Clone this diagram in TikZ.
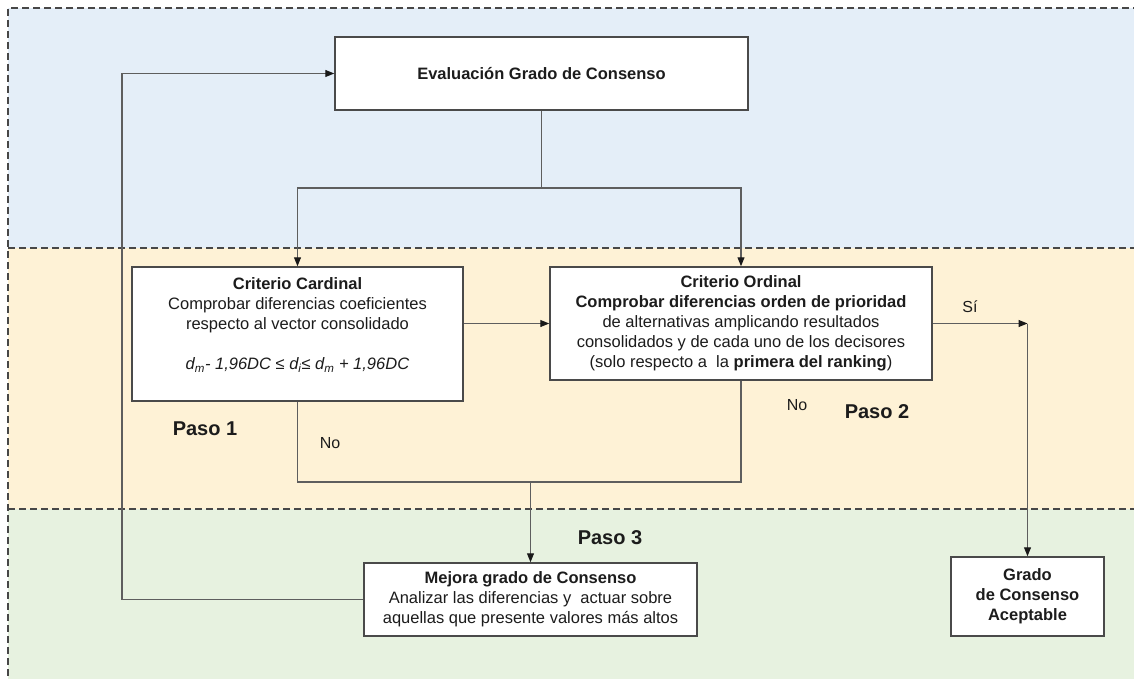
\documentclass[tikz,border=0pt]{standalone}
\usepackage{fontspec}
\setmainfont{Liberation Sans}
\usetikzlibrary{arrows.meta}
\definecolor{bandblue}{HTML}{E4EEF8}
\definecolor{bandyellow}{HTML}{FEF2D6}
\definecolor{bandgreen}{HTML}{E7F2E0}
\definecolor{linegray}{HTML}{5E5E5E}
\definecolor{boxgray}{HTML}{4A4A4A}
\definecolor{txt}{HTML}{1C1C1C}
\begin{document}
\begin{tikzpicture}[x=1pt,y=-1pt,
  box/.style={draw=boxgray, line width=1.5pt, fill=white, align=center, inner sep=0pt, text=txt, font=\fontsize{16.5}{20}\selectfont},
  conn/.style={draw=linegray, line width=1.1pt},
  arr/.style={conn, -{Triangle[length=9pt,width=7pt,color=black!90]}},
  lbl/.style={text=txt, font=\fontsize{16}{19}\selectfont, inner sep=0pt},
  paso/.style={text=txt, font=\bfseries\fontsize{20}{24}\selectfont, inner sep=0pt},
  sep/.style={draw=black!72, line width=1.5pt, dash pattern=on 7pt off 4pt}
]
\useasboundingbox (0,0) rectangle (1134,679);
% bands
\fill[bandblue] (8,8) rectangle (1140,248);
\fill[bandyellow] (8,248) rectangle (1140,509);
\fill[bandgreen] (8,509) rectangle (1140,685);
\draw[sep] (1140,8) -- (8,8) -- (8,685);
\draw[sep] (8,248) -- (1140,248);
\draw[sep] (8,509) -- (1140,509);

% boxes
\node[box, minimum width=413pt, minimum height=73pt] (eval) at (541.5,73.5)
  {\bfseries Evaluación Grado de Consenso};
\node[box, minimum width=331pt, minimum height=134pt] (card) at (297.5,334)
  {{\bfseries Criterio Cardinal}\\
   Comprobar diferencias coeficientes\\
   respecto al vector consolidado\\
   \mbox{}\\
   \textit{d\textsubscript{m}- 1,96DC ≤ d\textsubscript{i}≤ d\textsubscript{m} + 1,96DC}\\
   \mbox{}};
\node[box, minimum width=382pt, minimum height=113pt] (ord) at (741,323.5)
  {{\bfseries Criterio Ordinal}\\
   {\bfseries Comprobar diferencias orden de prioridad}\\
   de alternativas amplicando resultados\\
   consolidados y de cada uno de los decisores\\
   (solo respecto a\ \ la \textbf{primera del ranking})};
\node[box, minimum width=333pt, minimum height=73pt] (mej) at (530.5,599.5)
  {{\bfseries Mejora grado de Consenso}\\
   Analizar las diferencias y\ \ actuar sobre\\
   aquellas que presente valores más altos};
\node[box, minimum width=153pt, minimum height=79pt] (grado) at (1027.5,596.5)
  {\bfseries Grado\\ \bfseries de Consenso\\ \bfseries Aceptable};

% connectors
\coordinate (split) at (541.5,188);
\draw[conn] (eval.south) -- (split);
\draw[arr] (split) -| (card.north);
\draw[arr] (split) -| (ord.north);
\draw[arr] (card.east |- ord.west) -- (ord.west);
\coordinate (si) at (1027.5,323.5);
\draw[arr] (ord.east) -- (si);
\draw[arr] (si) -- (grado.north);
\coordinate (join) at (530.5,482);
\draw[conn] (card.south) -- (card.south |- join) -- (ord.south |- join) -- (ord.south);
\draw[arr] (join) -- (mej.north);
\coordinate (back) at (122,599.5);
\draw[arr] (mej.west) -- (back) -- (back |- eval.west) -- (eval.west);

% labels
\node[lbl] (lsi) at (970,307) {Sí};
\node[lbl] (lno2) at (797,405) {No};
\node[lbl] (lno1) at (330,443) {No};
\node[paso] (p1) at (205,429) {Paso 1};
\node[paso] (p2) at (877,412) {Paso 2};
\node[paso] (p3) at (610,538) {Paso 3};
\end{tikzpicture}
\end{document}
